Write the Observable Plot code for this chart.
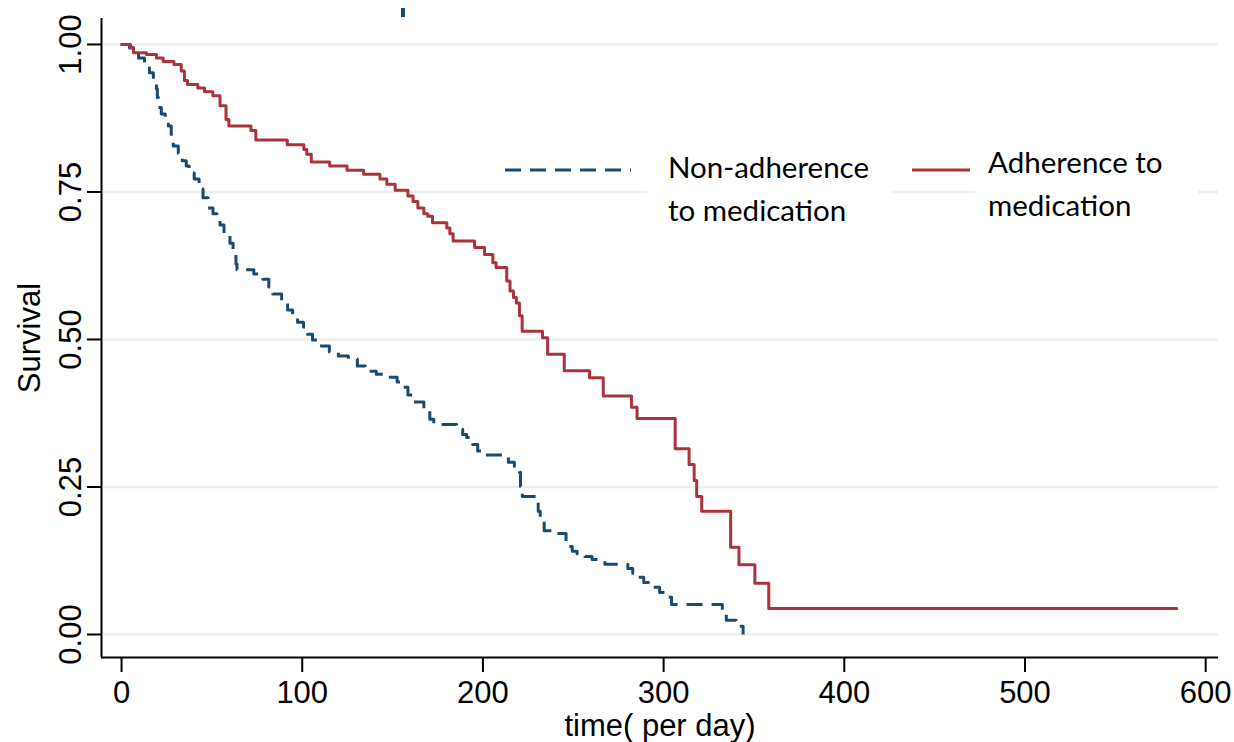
<!DOCTYPE html>
<html>
<head>
<meta charset="utf-8">
<script src="https://cdn.jsdelivr.net/npm/d3@7"></script>
<script src="https://cdn.jsdelivr.net/npm/@observablehq/plot@0.6"></script>
<style>
  html, body { margin: 0; padding: 0; background: #ffffff; }
  #chart { width: 1234px; height: 742px; }
</style>
</head>
<body>
<div id="chart"></div>
<script>
// ---- data ----
const nonAdherenceTime = [0, 4.4, 6.6, 9.4, 12.7, 15.4, 17.6, 19.3, 19.8, 20.4, 22, 24.2, 25.9, 27.5, 28.6, 31.4, 33.6, 35.8, 37.4, 40.2, 42.9, 45.1, 47.9, 50.6, 52.8, 54.5, 56.7, 60, 61.7, 63.3, 63.9, 73.2, 78.2, 81.5, 83.7, 88.6, 91.9, 94.7, 97.4, 100.7, 102.9, 105.7, 110.6, 115, 120, 125.5, 130.5, 134.9, 141, 147.5, 152.5, 155.2, 158.5, 161.8, 167.3, 170.6, 172.8, 185.5, 188.8, 191, 194.3, 197.1, 199.3, 214.1, 217.4, 220.2, 220.8, 221.8, 229.5, 230.6, 231.7, 233.9, 238.3, 246, 249.4, 252.1, 256.5, 260.4, 267.5, 280.2, 282.9, 286.2, 289, 291.7, 297.8, 301.1, 304.4, 332.5, 334.7, 340.2, 344];
const nonAdherenceSurv = [1.0, 0.994, 0.989, 0.977, 0.969, 0.952, 0.942, 0.925, 0.910, 0.893, 0.882, 0.871, 0.862, 0.845, 0.828, 0.815, 0.803, 0.794, 0.782, 0.772, 0.755, 0.740, 0.723, 0.713, 0.706, 0.694, 0.680, 0.663, 0.647, 0.628, 0.618, 0.611, 0.602, 0.589, 0.577, 0.562, 0.550, 0.538, 0.529, 0.521, 0.509, 0.499, 0.489, 0.479, 0.472, 0.467, 0.455, 0.446, 0.441, 0.436, 0.428, 0.419, 0.406, 0.394, 0.380, 0.365, 0.356, 0.348, 0.339, 0.334, 0.322, 0.311, 0.304, 0.292, 0.285, 0.275, 0.251, 0.234, 0.226, 0.209, 0.192, 0.176, 0.171, 0.149, 0.141, 0.137, 0.132, 0.127, 0.119, 0.112, 0.104, 0.097, 0.088, 0.080, 0.071, 0.063, 0.051, 0.037, 0.024, 0.014, 0.0];

const adherenceTime = [0, 5, 6.6, 13.8, 19.3, 23, 29, 33, 34.8, 36.5, 42.2, 45.9, 50.5, 54.5, 57.8, 59.4, 71.6, 74.3, 91.7, 100.9, 102.5, 105, 115.2, 124.8, 134, 143, 146.8, 151.4, 158.5, 161.3, 164, 167.3, 169.5, 172.1, 180, 181.7, 183.5, 195.4, 200.9, 205.5, 207.3, 213.2, 215, 216.9, 218.5, 220.2, 221.7, 233, 235.8, 245, 259, 266.6, 282.2, 285.3, 306.4, 314.1, 316.9, 318.3, 321.1, 337.1, 341.7, 350.5, 358.2, 584];
const adherenceSurv = [1.0, 0.995, 0.986, 0.983, 0.977, 0.971, 0.966, 0.955, 0.939, 0.932, 0.926, 0.920, 0.913, 0.896, 0.873, 0.862, 0.854, 0.838, 0.830, 0.822, 0.814, 0.801, 0.794, 0.787, 0.780, 0.772, 0.763, 0.753, 0.743, 0.734, 0.723, 0.713, 0.709, 0.698, 0.689, 0.679, 0.667, 0.656, 0.644, 0.630, 0.622, 0.599, 0.582, 0.571, 0.562, 0.540, 0.514, 0.503, 0.475, 0.447, 0.435, 0.404, 0.385, 0.366, 0.315, 0.288, 0.261, 0.234, 0.209, 0.148, 0.118, 0.087, 0.044, 0.044];

const xTicks = [0, 100, 200, 300, 400, 500, 600];
const yTicks = [0, 0.25, 0.5, 0.75, 1];
const seriesNames = ["Non-adherence\nto medication", "Adherence to\nmedication"];
const xTitle = "time( per day)";
const yTitle = "Survival";

// ---- styles ----
const blue = "#1a4a72";
const red = "#aa333c";
const gridColor = "#e8f1f2";
const dash = "16,9";
const xDomain = [-11.1, 607.1];
const yDomain = [-0.039, 1.044];

const nonAdh = nonAdherenceTime.map((t, i) => ({t, s: nonAdherenceSurv[i]}));
const adh = adherenceTime.map((t, i) => ({t, s: adherenceSurv[i]}));

const chart = Plot.plot({
  width: 1234,
  height: 742,
  marginLeft: 101,
  marginRight: 16,
  marginTop: 18,
  marginBottom: 85,
  style: {fontFamily: "'Liberation Sans', Arial, sans-serif", fontSize: "31px", background: "#ffffff", color: "#000"},
  x: {domain: xDomain},
  y: {domain: yDomain},
  marks: [
    Plot.ruleY(yTicks, {stroke: gridColor, strokeWidth: 2.5}),
    Plot.line(nonAdh, {x: "t", y: "s", curve: "step-after", stroke: blue, strokeWidth: 3, strokeDasharray: dash, strokeLinecap: "butt"}),
    Plot.line(adh, {x: "t", y: "s", curve: "step-after", stroke: red, strokeWidth: 3}),
    Plot.ruleX([xDomain[0]], {stroke: "#000", strokeWidth: 2}),
    Plot.ruleY([yDomain[0]], {stroke: "#000", strokeWidth: 2}),
    Plot.axisX({ticks: xTicks, tickSize: 15, tickPadding: 8, tickFormat: d => String(d), label: null, fontSize: 31, strokeWidth: 2}),
    Plot.axisY({ticks: yTicks, tickSize: 14, tickFormat: () => "", label: null, strokeWidth: 2}),
    Plot.text(yTicks, {y: d => d, frameAnchor: "left", text: d => d3.format(".2f")(d), rotate: -90, textAnchor: "middle", lineAnchor: "bottom", dx: -21, fontSize: 31}),
    Plot.text([xTitle], {frameAnchor: "bottom", text: d => d, lineAnchor: "bottom", dy: 78, fontSize: 31}),
    Plot.text([yTitle], {frameAnchor: "left", text: d => d, rotate: -90, textAnchor: "middle", lineAnchor: "bottom", dx: -62, fontSize: 31})
  ]
});

// ---- legend (inside the plot area, like the reference) ----
const svg = d3.select(chart);
const lg = svg.append("g").attr("font-family", "Lato, 'Open Sans', sans-serif").attr("font-size", 29.5)
  .attr("fill", "#000").attr("text-anchor", "start");
lg.append("rect").attr("x", 647).attr("y", 140).attr("width", 246).attr("height", 88).attr("fill", "#fff");
lg.append("rect").attr("x", 975).attr("y", 140).attr("width", 223).attr("height", 88).attr("fill", "#fff");
lg.append("line").attr("x1", 505).attr("x2", 631).attr("y1", 170).attr("y2", 170)
  .attr("stroke", blue).attr("stroke-width", 3).attr("stroke-dasharray", dash);
lg.append("line").attr("x1", 912).attr("x2", 970).attr("y1", 170).attr("y2", 170)
  .attr("stroke", red).attr("stroke-width", 3);
const labelPos = [{x: 668, y: 178}, {x: 988, y: 173}];
seriesNames.forEach((name, i) => {
  const t = lg.append("text").attr("x", labelPos[i].x).attr("y", labelPos[i].y).attr("text-anchor", "start");
  name.split("\n").forEach((ln, j) => {
    t.append("tspan").attr("x", labelPos[i].x).attr("dy", j === 0 ? 0 : 43).text(ln);
  });
});
// small stray mark at the top, as in the reference
svg.append("rect").attr("x", 401).attr("y", 8).attr("width", 4).attr("height", 9).attr("fill", blue);

document.getElementById("chart").appendChild(chart);
</script>
</body>
</html>
